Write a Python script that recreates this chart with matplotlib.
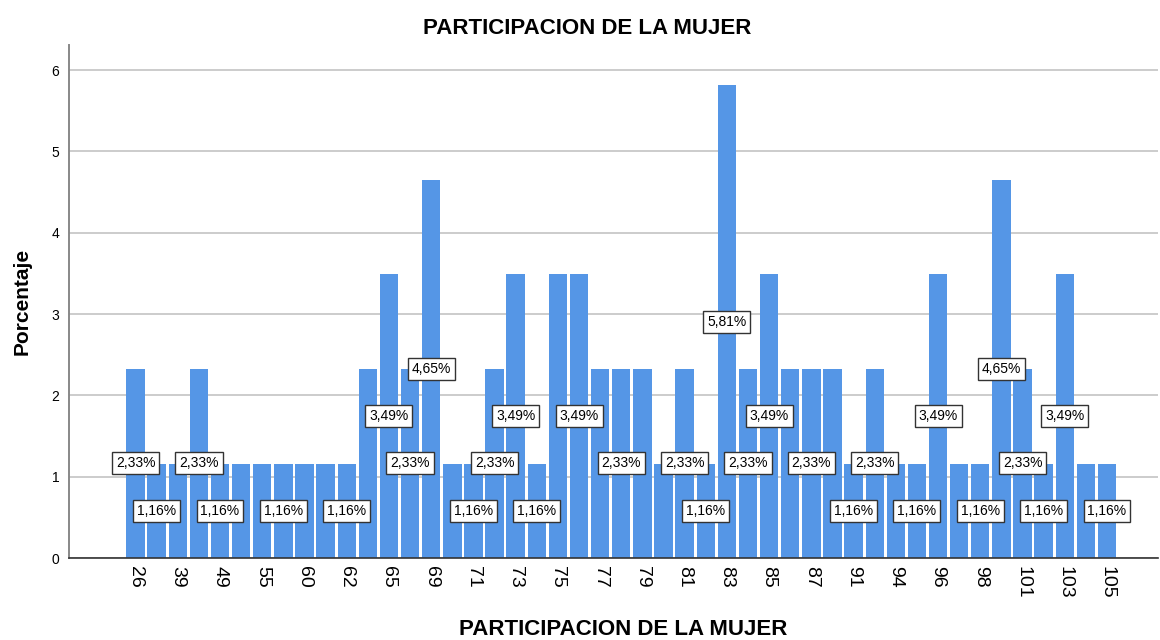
import numpy as np
import matplotlib
matplotlib.use("Agg")
import matplotlib.pyplot as plt

plt.rcParams['font.family'] = ['Liberation Sans', 'DejaVu Sans']

# porcentaje por valor de PARTICIPACION DE LA MUJER (47 categorias, n=86)
porcentaje = [2.33, 1.16, 1.16, 2.33, 1.16, 1.16, 1.16, 1.16, 1.16, 1.16,
              1.16, 2.33, 3.49, 2.33, 4.65, 1.16, 1.16, 2.33, 3.49, 1.16,
              3.49, 3.49, 2.33, 2.33, 2.33, 1.16, 2.33, 1.16, 5.81, 2.33,
              3.49, 2.33, 2.33, 2.33, 1.16, 2.33, 1.16, 1.16, 3.49, 1.16,
              1.16, 4.65, 2.33, 1.16, 3.49, 1.16, 1.16]

# only every other category is labelled on the axis
tick_labels = ['26', '39', '49', '55', '60', '62', '65', '69', '71', '73',
               '75', '77', '79', '81', '83', '85', '87', '91', '94', '96',
               '98', '101', '103', '105']

titulo = 'PARTICIPACION DE LA MUJER'
ylabel = 'Porcentaje'

fig = plt.figure(figsize=(11.6, 6.4), dpi=100)
ax = fig.add_axes([0.0595, 0.128, 0.9385, 0.802])

x = np.arange(len(porcentaje))
ax.bar(x, porcentaje, width=0.87, color='#5596e6', zorder=2)

ax.set_xlim(-3.15, 48.4)
ax.set_ylim(0, 6.31)

ax.set_yticks(range(0, 7))
ax.yaxis.grid(True, color='#cccccc', linewidth=1.4)
ax.set_axisbelow(True)
ax.tick_params(axis='y', length=0, pad=7, labelsize=10)

ax.set_xticks(x[::2])
ax.set_xticklabels(tick_labels, rotation=-90, fontsize=14)
ax.tick_params(axis='x', length=0, pad=6)

for s in ['top', 'right']:
    ax.spines[s].set_visible(False)
ax.spines['left'].set_color('#888888')
ax.spines['left'].set_linewidth(1.4)
ax.spines['bottom'].set_color('#333333')
ax.spines['bottom'].set_linewidth(1.2)

ax.set_ylabel(ylabel, fontsize=15, fontweight='bold')
ax.yaxis.set_label_coords(-0.034, 0.5)
fig.text(0.506, 0.956, titulo, ha='center', va='center', fontsize=16, fontweight='bold')
fig.text(0.537, 0.017, titulo, ha='center', va='center', fontsize=16, fontweight='bold')

# value labels at mid height, hide ones that collide (checked right to left)
labels = []
for i, v in zip(x, porcentaje):
    t = ax.text(i, v / 2, ('%.2f%%' % v).replace('.', ','), ha='center', va='center',
                fontsize=10, zorder=5,
                bbox=dict(boxstyle='square,pad=0.28', fc='white', ec='#333333', lw=1))
    labels.append(t)

fig.canvas.draw()
renderer = fig.canvas.get_renderer()
shown = []
for t in reversed(labels):
    bb = t.get_bbox_patch().get_window_extent(renderer)
    if any(bb.overlaps(o) for o in shown):
        t.set_visible(False)
    else:
        shown.append(bb)

fig.savefig('out.png', dpi=100)
